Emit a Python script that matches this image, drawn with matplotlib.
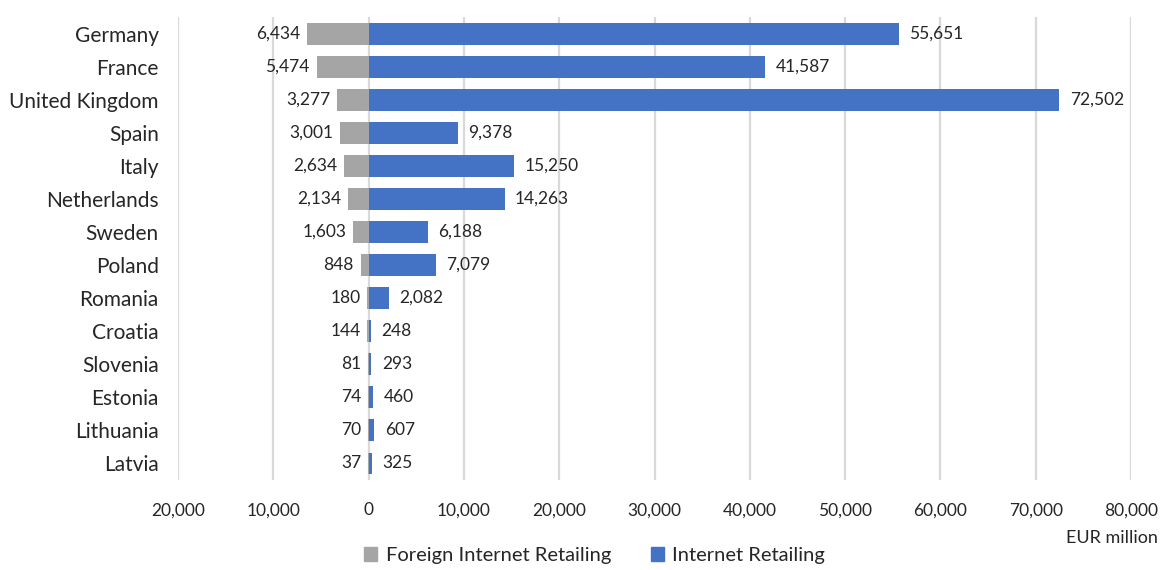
import matplotlib.pyplot as plt
from matplotlib.ticker import FuncFormatter
from matplotlib.patches import Patch

plt.rcParams['font.family'] = ['Lato', 'DejaVu Sans']

# Online retail sales by country, EUR million
countries = ['Germany', 'France', 'United Kingdom', 'Spain', 'Italy', 'Netherlands',
             'Sweden', 'Poland', 'Romania', 'Croatia', 'Slovenia', 'Estonia',
             'Lithuania', 'Latvia']
foreign = [6434, 5474, 3277, 3001, 2634, 2134, 1603, 848, 180, 144, 81, 74, 70, 37]
internet = [55651, 41587, 72502, 9378, 15250, 14263, 6188, 7079, 2082, 248, 293, 460, 607, 325]

grey = '#a5a5a5'
blue = '#4472c4'
txt = '#262626'

fig = plt.figure(figsize=(11.64, 5.70), dpi=100)
ax = fig.add_axes([0.153, 0.158, 0.8186, 0.812])

y = list(range(len(countries)))
ax.barh(y, [-v for v in foreign], height=0.66, color=grey, zorder=3)
ax.barh(y, internet, height=0.66, color=blue, zorder=3)

# value labels on both sides of zero
for i in y:
    ax.text(-foreign[i] - 700, i, f'{foreign[i]:,}', ha='right', va='center',
            fontsize=12.5, color=txt)
    ax.text(internet[i] + 1100, i, f'{internet[i]:,}', ha='left', va='center',
            fontsize=12.5, color=txt)

ax.set_xlim(-20000, 80000)
ax.set_ylim(len(countries) - 0.5, -0.5)
ax.set_xticks(range(-20000, 80001, 10000))
ax.xaxis.set_major_formatter(FuncFormatter(lambda v, p: f'{abs(int(v)):,}'))
ax.set_yticks(y)
ax.set_yticklabels(countries)
ax.tick_params(axis='x', length=0, pad=16, labelsize=12.5, labelcolor=txt)
ax.tick_params(axis='y', length=0, pad=14, labelsize=15, labelcolor=txt)

ax.grid(axis='x', color='#d9d9d9', linewidth=1.6, zorder=0)
for s in ax.spines.values():
    s.set_visible(False)

fig.text(0.995, 0.056, 'EUR million', ha='right', va='center',
         fontsize=13, color=txt)

handles = [Patch(color=grey, label='Foreign Internet Retailing'),
           Patch(color=blue, label='Internet Retailing')]
fig.legend(handles=handles, loc='center', bbox_to_anchor=(0.511, 0.025), ncol=2,
           frameon=False, fontsize=14.5, handlelength=0.65, handleheight=0.65,
           handletextpad=0.4, columnspacing=2.0, labelcolor=txt)

fig.savefig('out.png', dpi=100)
